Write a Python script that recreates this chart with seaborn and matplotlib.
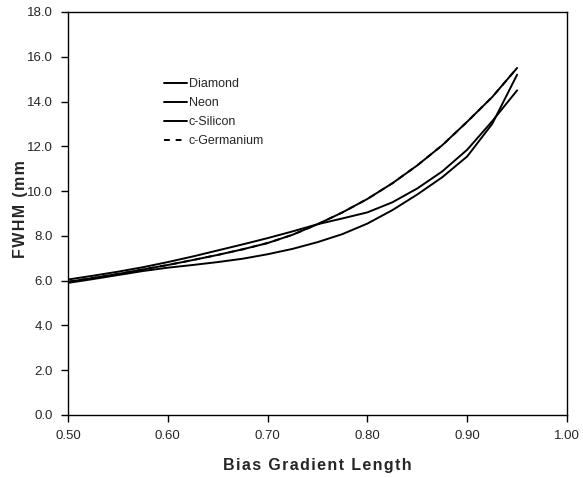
import matplotlib
matplotlib.use("Agg")
import matplotlib.pyplot as plt
import seaborn as sns
import pandas as pd

# Data
bias_length = [0.500, 0.525, 0.550, 0.575, 0.600, 0.625, 0.650, 0.675, 0.700,
               0.725, 0.750, 0.775, 0.800, 0.825, 0.850, 0.875, 0.900, 0.925, 0.950]
diamond     = [5.90, 6.07, 6.25, 6.43, 6.58, 6.70, 6.83, 6.98, 7.18,
               7.42, 7.72, 8.08, 8.55, 9.15, 9.85, 10.62, 11.55, 13.00, 15.20]
neon        = [6.05, 6.22, 6.40, 6.60, 6.83, 7.08, 7.35, 7.62, 7.90,
               8.20, 8.52, 8.78, 9.05, 9.50, 10.12, 10.88, 11.85, 13.12, 14.50]
c_silicon   = [5.95, 6.12, 6.30, 6.50, 6.70, 6.92, 7.15, 7.40, 7.68,
               8.05, 8.52, 9.05, 9.65, 10.35, 11.15, 12.05, 13.10, 14.20, 15.50]
c_germanium = [5.95, 6.12, 6.30, 6.50, 6.70, 6.92, 7.15, 7.40, 7.68,
               8.05, 8.52, 9.05, 9.65, 10.35, 11.15, 12.05, 13.10, 14.20, 15.50]

series_names = ["Diamond", "Neon", "c-Silicon", "c-Germanium"]
series_vals = [diamond, neon, c_silicon, c_germanium]

xticks = [0.50, 0.60, 0.70, 0.80, 0.90, 1.00]
yticks = [0.0, 2.0, 4.0, 6.0, 8.0, 10.0, 12.0, 14.0, 16.0, 18.0]

rows = []
for name, vals in zip(series_names, series_vals):
    for xv, yv in zip(bias_length, vals):
        rows.append({"x": xv, "y": yv, "series": name})
df = pd.DataFrame(rows)

sns.set_style("white")
plt.rcParams["font.family"] = ["Liberation Sans", "DejaVu Sans"]

fig = plt.figure(figsize=(5.83, 4.78), dpi=100)
ax = fig.add_axes([0.1166, 0.1318, 0.856, 0.8431])

sns.lineplot(data=df, x="x", y="y", hue="series", style="series",
             palette=["black"] * 4,
             dashes={"Diamond": "", "Neon": "", "c-Silicon": "",
                     "c-Germanium": (3, 3)},
             linewidth=1.4, ax=ax, legend=True)

ax.set_xlim(0.5, 1.0)
ax.set_ylim(0, 18)
ax.set_xticks(xticks)
ax.set_yticks(yticks)
ax.set_xticklabels([f"{t:.2f}" for t in xticks], fontsize=9.5)
ax.set_yticklabels([f"{t:.1f}" for t in yticks], fontsize=9.5)
ax.tick_params(axis="both", direction="out", length=5, width=1, color="black",
               bottom=True, left=True, pad=6)
for s in ax.spines.values():
    s.set_visible(True)
    s.set_color("black")
    s.set_linewidth(1.0)


def spaced(text):
    return "\u200a".join(text)


ax.set_xlabel(spaced("Bias Gradient Length"), fontsize=11.5, fontweight="bold",
              labelpad=11)
ax.set_ylabel(spaced("FWHM (mm"), fontsize=11.5, fontweight="bold")
ax.yaxis.set_label_coords(-0.080, 0.51)

leg = ax.legend(frameon=False, loc="upper left", bbox_to_anchor=(0.183, 0.848),
                fontsize=9, handlelength=1.8, handletextpad=0.15,
                labelspacing=0.55, borderaxespad=0)
for h in leg.get_lines():
    h.set_linewidth(1.4)

fig.savefig("out.png", dpi=100)
